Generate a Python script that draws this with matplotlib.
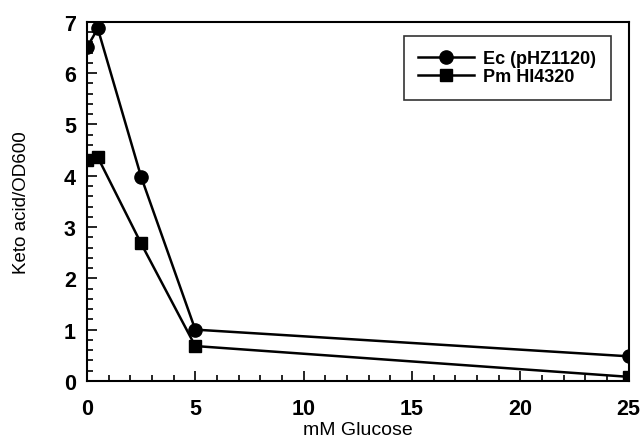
import matplotlib
matplotlib.use("Agg")
import matplotlib.pyplot as plt
from matplotlib.ticker import MultipleLocator

plt.rcParams['font.family'] = ['Liberation Sans', 'DejaVu Sans']

glucose = [0, 0.5, 2.5, 5, 25]
ec_values = [6.5, 6.87, 3.98, 1.0, 0.48]
pm_values = [4.3, 4.36, 2.68, 0.68, 0.08]
labels = ["Ec (pHZ1120)", "Pm HI4320"]

fig = plt.figure(figsize=(6.44, 4.39), dpi=100)
ax = fig.add_axes([0.135, 0.130, 0.841, 0.818])

ax.plot(glucose, ec_values, color='black', lw=1.8, marker='o', ms=9.5, label=labels[0])
ax.plot(glucose, pm_values, color='black', lw=1.8, marker='s', ms=9, label=labels[1])

ax.set_xlim(0, 25)
ax.set_ylim(0, 7)
ax.xaxis.set_major_locator(MultipleLocator(5))
ax.xaxis.set_minor_locator(MultipleLocator(1))
ax.yaxis.set_major_locator(MultipleLocator(1))
ax.yaxis.set_minor_locator(MultipleLocator(0.2))
ax.tick_params(which='both', direction='in', top=False, right=False, width=1.2)
ax.tick_params(which='major', length=7, labelsize=15.5)
ax.tick_params(axis='x', which='major', pad=12)
ax.tick_params(axis='y', which='major', pad=8)
ax.tick_params(which='minor', length=4)
for lab in ax.get_xticklabels() + ax.get_yticklabels():
    lab.set_fontweight('bold')
for s in ax.spines.values():
    s.set_linewidth(1.5)

ax.set_xlabel("mM Glucose", fontsize=14, labelpad=2)
ax.set_ylabel("Keto acid/OD600", fontsize=13.5, labelpad=24)

leg = ax.legend(loc='upper right', bbox_to_anchor=(0.967, 0.961), frameon=True, fancybox=False,
                edgecolor='black', prop={'weight': 'bold', 'size': 13},
                handlelength=3.1, handletextpad=0.5, borderpad=0.8, borderaxespad=0,
                labelspacing=0.05)
leg.get_frame().set_linewidth(1.2)

fig.savefig("out.png", dpi=100)
